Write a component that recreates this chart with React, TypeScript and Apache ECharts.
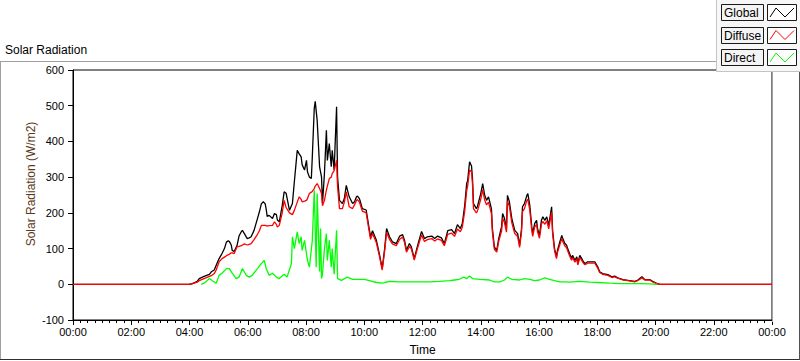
import React, { useEffect, useRef } from "react";
import * as echarts from "echarts";

// Time of day in minutes after midnight (shared by Global and Diffuse)
const timeMinutes = [
  0, 239, 246, 256, 260, 270, 281, 285, 291, 295,
  301, 307, 312, 316, 320, 322, 326, 328, 332, 338,
  342, 347, 349, 353, 359, 363, 367, 373, 380, 384,
  388, 392, 396, 398, 400, 404, 411, 415, 419, 421,
  425, 431, 435, 439, 446, 452, 456, 462, 466, 470,
  472, 477, 481, 483, 487, 491, 493, 497, 499, 503,
  508, 512, 514, 518, 522, 524, 528, 532, 534, 538,
  543, 545, 549, 555, 559, 563, 569, 576, 580, 584,
  586, 590, 592, 596, 604, 609, 613, 617, 625, 631,
  637, 642, 646, 652, 658, 666, 673, 679, 683, 687,
  693, 697, 703, 710, 718, 724, 730, 739, 745, 751,
  759, 765, 772, 780, 786, 792, 798, 802, 807, 811,
  813, 817, 821, 823, 825, 831, 833, 840, 844, 848,
  852, 856, 862, 864, 868, 873, 877, 883, 885, 889,
  893, 895, 899, 904, 910, 916, 920, 924, 926, 930,
  935, 937, 941, 945, 947, 951, 955, 957, 961, 965,
  968, 972, 976, 980, 986, 988, 992, 996, 998, 1003,
  1007, 1009, 1013, 1017, 1019, 1023, 1027, 1029, 1034, 1038,
  1040, 1044, 1048, 1050, 1054, 1058, 1060, 1075, 1081, 1085,
  1091, 1102, 1110, 1116, 1122, 1133, 1143, 1157, 1163, 1172,
  1178, 1188, 1194, 1203, 1209, 1440,
];

const globalValues = [
  0, 0, 2, 8, 16, 22, 28, 35, 40, 53,
  72, 86, 100, 118, 122, 120, 110, 95, 92, 109,
  135, 148, 151, 142, 128, 130, 133, 151, 184, 203,
  225, 231, 225, 210, 190, 193, 184, 198, 195, 180,
  175, 220, 259, 255, 207, 226, 287, 375, 365, 357,
  335, 320, 347, 315, 300, 296, 357, 492, 512, 459,
  329, 300, 226, 310, 431, 347, 394, 329, 375, 320,
  497, 300, 235, 226, 240, 277, 245, 226, 231, 245,
  247, 240, 231, 212, 208, 165, 133, 150, 123, 86,
  44, 100, 156, 133, 119, 114, 135, 139, 123, 95,
  114, 105, 72, 109, 148, 128, 133, 135, 128, 135,
  130, 114, 150, 153, 142, 167, 156, 170, 221, 282,
  290, 343, 331, 296, 226, 212, 217, 254, 282, 250,
  235, 245, 212, 156, 105, 95, 128, 162, 198, 184,
  156, 249, 231, 184, 151, 142, 109, 156, 217, 226,
  249, 254, 221, 162, 142, 170, 179, 156, 137, 179,
  189, 179, 189, 165, 217, 151, 100, 77, 95, 119,
  137, 128, 115, 109, 100, 86, 72, 81, 67, 77,
  58, 81, 72, 67, 58, 61, 63, 63, 49, 35,
  30, 27, 21, 23, 18, 13, 11, 8, 11, 21,
  13, 13, 8, 2, 0, 0,
];

const diffuseValues = [
  0, 0, 2, 6, 10, 16, 22, 24, 30, 40,
  63, 72, 76, 80, 83, 84, 88, 88, 86, 105,
  106, 108, 110, 113, 110, 112, 114, 125, 140, 150,
  165, 165, 165, 164, 163, 164, 165, 175, 168, 160,
  165, 200, 235, 215, 200, 195, 207, 230, 245, 238,
  231, 233, 235, 240, 254, 258, 260, 268, 275, 282,
  268, 254, 220, 235, 264, 275, 296, 300, 310, 318,
  347, 273, 212, 212, 230, 259, 217, 212, 223, 235,
  237, 230, 222, 205, 200, 158, 126, 142, 116, 80,
  40, 92, 145, 126, 113, 108, 126, 132, 117, 90,
  106, 99, 68, 102, 138, 120, 125, 128, 121, 127,
  123, 108, 140, 143, 134, 155, 147, 160, 205, 262,
  275, 320, 315, 280, 212, 200, 204, 238, 265, 236,
  222, 230, 198, 146, 98, 90, 120, 150, 185, 172,
  146, 233, 218, 172, 142, 134, 103, 146, 203, 212,
  235, 238, 208, 152, 134, 160, 168, 147, 129, 168,
  176, 168, 178, 155, 202, 142, 94, 72, 89, 111,
  128, 120, 108, 102, 94, 80, 67, 75, 62, 71,
  54, 75, 67, 62, 55, 57, 59, 59, 45, 33,
  28, 25, 19, 21, 17, 12, 10, 7, 10, 18,
  12, 12, 7, 2, 0, 0,
];

// Direct radiation has its own time stamps (minutes after midnight)
const directMinutes = [
  264, 270, 276, 281, 287, 295, 301, 307, 316, 322,
  328, 336, 342, 349, 353, 357, 363, 369, 380, 388,
  394, 398, 404, 411, 419, 425, 435, 441, 450, 452,
  456, 462, 466, 470, 472, 477, 483, 487, 493, 497,
  501, 503, 508, 510, 512, 514, 518, 522, 524, 528,
  532, 534, 538, 543, 545, 553, 565, 576, 590, 600,
  611, 625, 637, 642, 652, 673, 693, 714, 734, 755,
  776, 786, 796, 805, 811, 817, 823, 838, 858, 868,
  879, 889, 895, 904, 920, 930, 941, 951, 961, 972,
  982, 992, 1003, 1013, 1023, 1044, 1065, 1081, 1106, 1126,
  1147, 1168, 1188, 1203,
];

const directValues = [
  0, 3, 10, 16, 10, 3, 25, 31, 44, 44,
  31, 16, 20, 44, 35, 25, 20, 25, 44, 58,
  67, 44, 25, 31, 20, 16, 28, 20, 58, 133,
  100, 147, 114, 133, 95, 123, 67, 48, 123, 263,
  48, 254, 36, 156, 16, 28, 100, 142, 67, 123,
  48, 100, 28, 151, 16, 11, 20, 14, 14, 14,
  10, 5, 3, 5, 8, 7, 7, 7, 7, 8,
  10, 12, 14, 20, 16, 23, 16, 14, 12, 7,
  7, 12, 20, 14, 12, 16, 14, 10, 12, 18,
  14, 10, 7, 7, 6, 8, 6, 5, 3, 2,
  2, 2, 1, 0,
];

const legendNames = ["Global", "Diffuse", "Direct"];
const seriesColors = ["#000000", "#ff0000", "#00ff00"];
const yTicks = { min: -100, max: 600, step: 100 };
const xTicks = { min: 0, max: 1440, step: 120 };

const FONT = '"Liberation Sans", Arial, sans-serif';

export default function App() {
  const ref = useRef<HTMLDivElement>(null);

  useEffect(() => {
    const chart = echarts.init(ref.current!, null, { renderer: "svg" });
    const pad = (n: number) => String(n).padStart(2, "0");

    const legendGraphics: any[] = [];
    legendNames.forEach((name, i) => {
      const y0 = 4 + i * 22.5;
      legendGraphics.push(
        {
          type: "rect",
          z: 110,
          shape: { x: 721.5, y: Math.round(y0) + 0.5, width: 42, height: 16 },
          style: { fill: "#f4f4f4", stroke: "#1a1a1a", lineWidth: 1 },
        },
        {
          type: "text",
          z: 111,
          style: {
            text: name,
            x: 724,
            y: Math.round(y0) + 9,
            textVerticalAlign: "middle",
            font: `12px ${FONT}`,
            fill: "#000",
          },
        },
        {
          type: "rect",
          z: 110,
          shape: { x: 767.5, y: Math.round(y0) + 0.5, width: 29, height: 16 },
          style: { fill: "#ffffff", stroke: "#1a1a1a", lineWidth: 1 },
        },
        {
          type: "polyline",
          z: 111,
          shape: {
            points: [
              [770, y0 + 13],
              [776, y0 + 4],
              [785, y0 + 13],
              [794, y0 + 4],
            ],
          },
          style: { stroke: seriesColors[i], fill: "none", lineWidth: 1 },
        }
      );
    });

    const seriesData = [
      timeMinutes.map((t, i) => [t, globalValues[i]]),
      timeMinutes.map((t, i) => [t, diffuseValues[i]]),
      directMinutes.map((t, i) => [t, directValues[i]]),
    ];

    chart.setOption({
      animation: false,
      backgroundColor: "#ffffff",
      grid: {
        left: 73,
        right: 28,
        top: 70,
        bottom: 39,
        show: true,
        backgroundColor: "#ffffff",
        borderColor: "#000000",
        borderWidth: 1,
      },
      xAxis: {
        type: "value",
        min: xTicks.min,
        max: xTicks.max,
        interval: xTicks.step,
        name: "Time",
        nameLocation: "middle",
        nameGap: 24,
        nameTextStyle: { fontFamily: FONT, fontSize: 12, color: "#000" },
        axisLine: { show: true, onZero: false, lineStyle: { color: "#000", width: 1 } },
        axisTick: { show: true, length: 5, lineStyle: { color: "#000" } },
        minorTick: { show: true, splitNumber: 8, length: 3, lineStyle: { color: "#000" } },
        splitLine: { show: false },
        minorSplitLine: { show: false },
        axisLabel: {
          margin: 6,
          fontFamily: FONT,
          fontSize: 11,
          color: "#000",
          showMinLabel: true,
          showMaxLabel: true,
          formatter: (v: number) => `${pad(Math.floor(v / 60) % 24)}:${pad(v % 60)}`,
        },
      },
      yAxis: {
        type: "value",
        min: yTicks.min,
        max: yTicks.max,
        interval: yTicks.step,
        axisLine: { show: true, onZero: false, lineStyle: { color: "#000", width: 1 } },
        axisTick: { show: true, length: 5, lineStyle: { color: "#000" } },
        splitLine: { show: false },
        axisLabel: { margin: 9, fontFamily: FONT, fontSize: 11, color: "#000" },
      },
      series: legendNames.map((name, i) => ({
        type: "line",
        name,
        data: seriesData[i],
        showSymbol: false,
        symbol: "none",
        clip: true,
        lineStyle: { color: seriesColors[i], width: 1.3 },
        itemStyle: { color: seriesColors[i] },
        emphasis: { disabled: true },
        z: 2 + i,
      })),
      graphic: [
        // outer frame
        { type: "line", z: 100, shape: { x1: 0, y1: 61.5, x2: 717, y2: 61.5 }, style: { stroke: "#a0a0a0", lineWidth: 1 } },
        { type: "line", z: 100, shape: { x1: 0.5, y1: 61, x2: 0.5, y2: 360 }, style: { stroke: "#a0a0a0", lineWidth: 1 } },
        { type: "line", z: 100, shape: { x1: 0, y1: 359.5, x2: 800, y2: 359.5 }, style: { stroke: "#303030", lineWidth: 1 } },
        { type: "line", z: 100, shape: { x1: 799.5, y1: 71, x2: 799.5, y2: 360 }, style: { stroke: "#505050", lineWidth: 1 } },
        // plot right border (grey)
        { type: "line", z: 100, shape: { x1: 772.5, y1: 70, x2: 772.5, y2: 322 }, style: { stroke: "#a0a0a0", lineWidth: 1 } },
        // title
        {
          type: "text",
          z: 100,
          style: { text: "Solar Radiation", x: 5, y: 50, textVerticalAlign: "middle", font: `12px ${FONT}`, fill: "#000" },
        },
        // y axis name
        {
          type: "text",
          z: 100,
          x: 31,
          y: 184,
          rotation: Math.PI / 2,
          style: {
            text: "Solar Radiation (W/m2)",
            x: 0,
            y: 0,
            textAlign: "center",
            textVerticalAlign: "middle",
            font: `12px ${FONT}`,
            fill: "#5a3818",
          },
        },
        // legend panel
        {
          type: "rect",
          z: 105,
          shape: { x: 716.5, y: -1, width: 90, height: 72.5 },
          style: { fill: "#f7f7f7", stroke: "#c4c4c4", lineWidth: 1 },
        },
        ...legendGraphics,
      ],
    });

    return () => chart.dispose();
  }, []);

  return (
    <div
      ref={ref}
      style={{ position: "fixed", left: 0, top: 0, width: 800, height: 361, background: "#fff" }}
    />
  );
}
